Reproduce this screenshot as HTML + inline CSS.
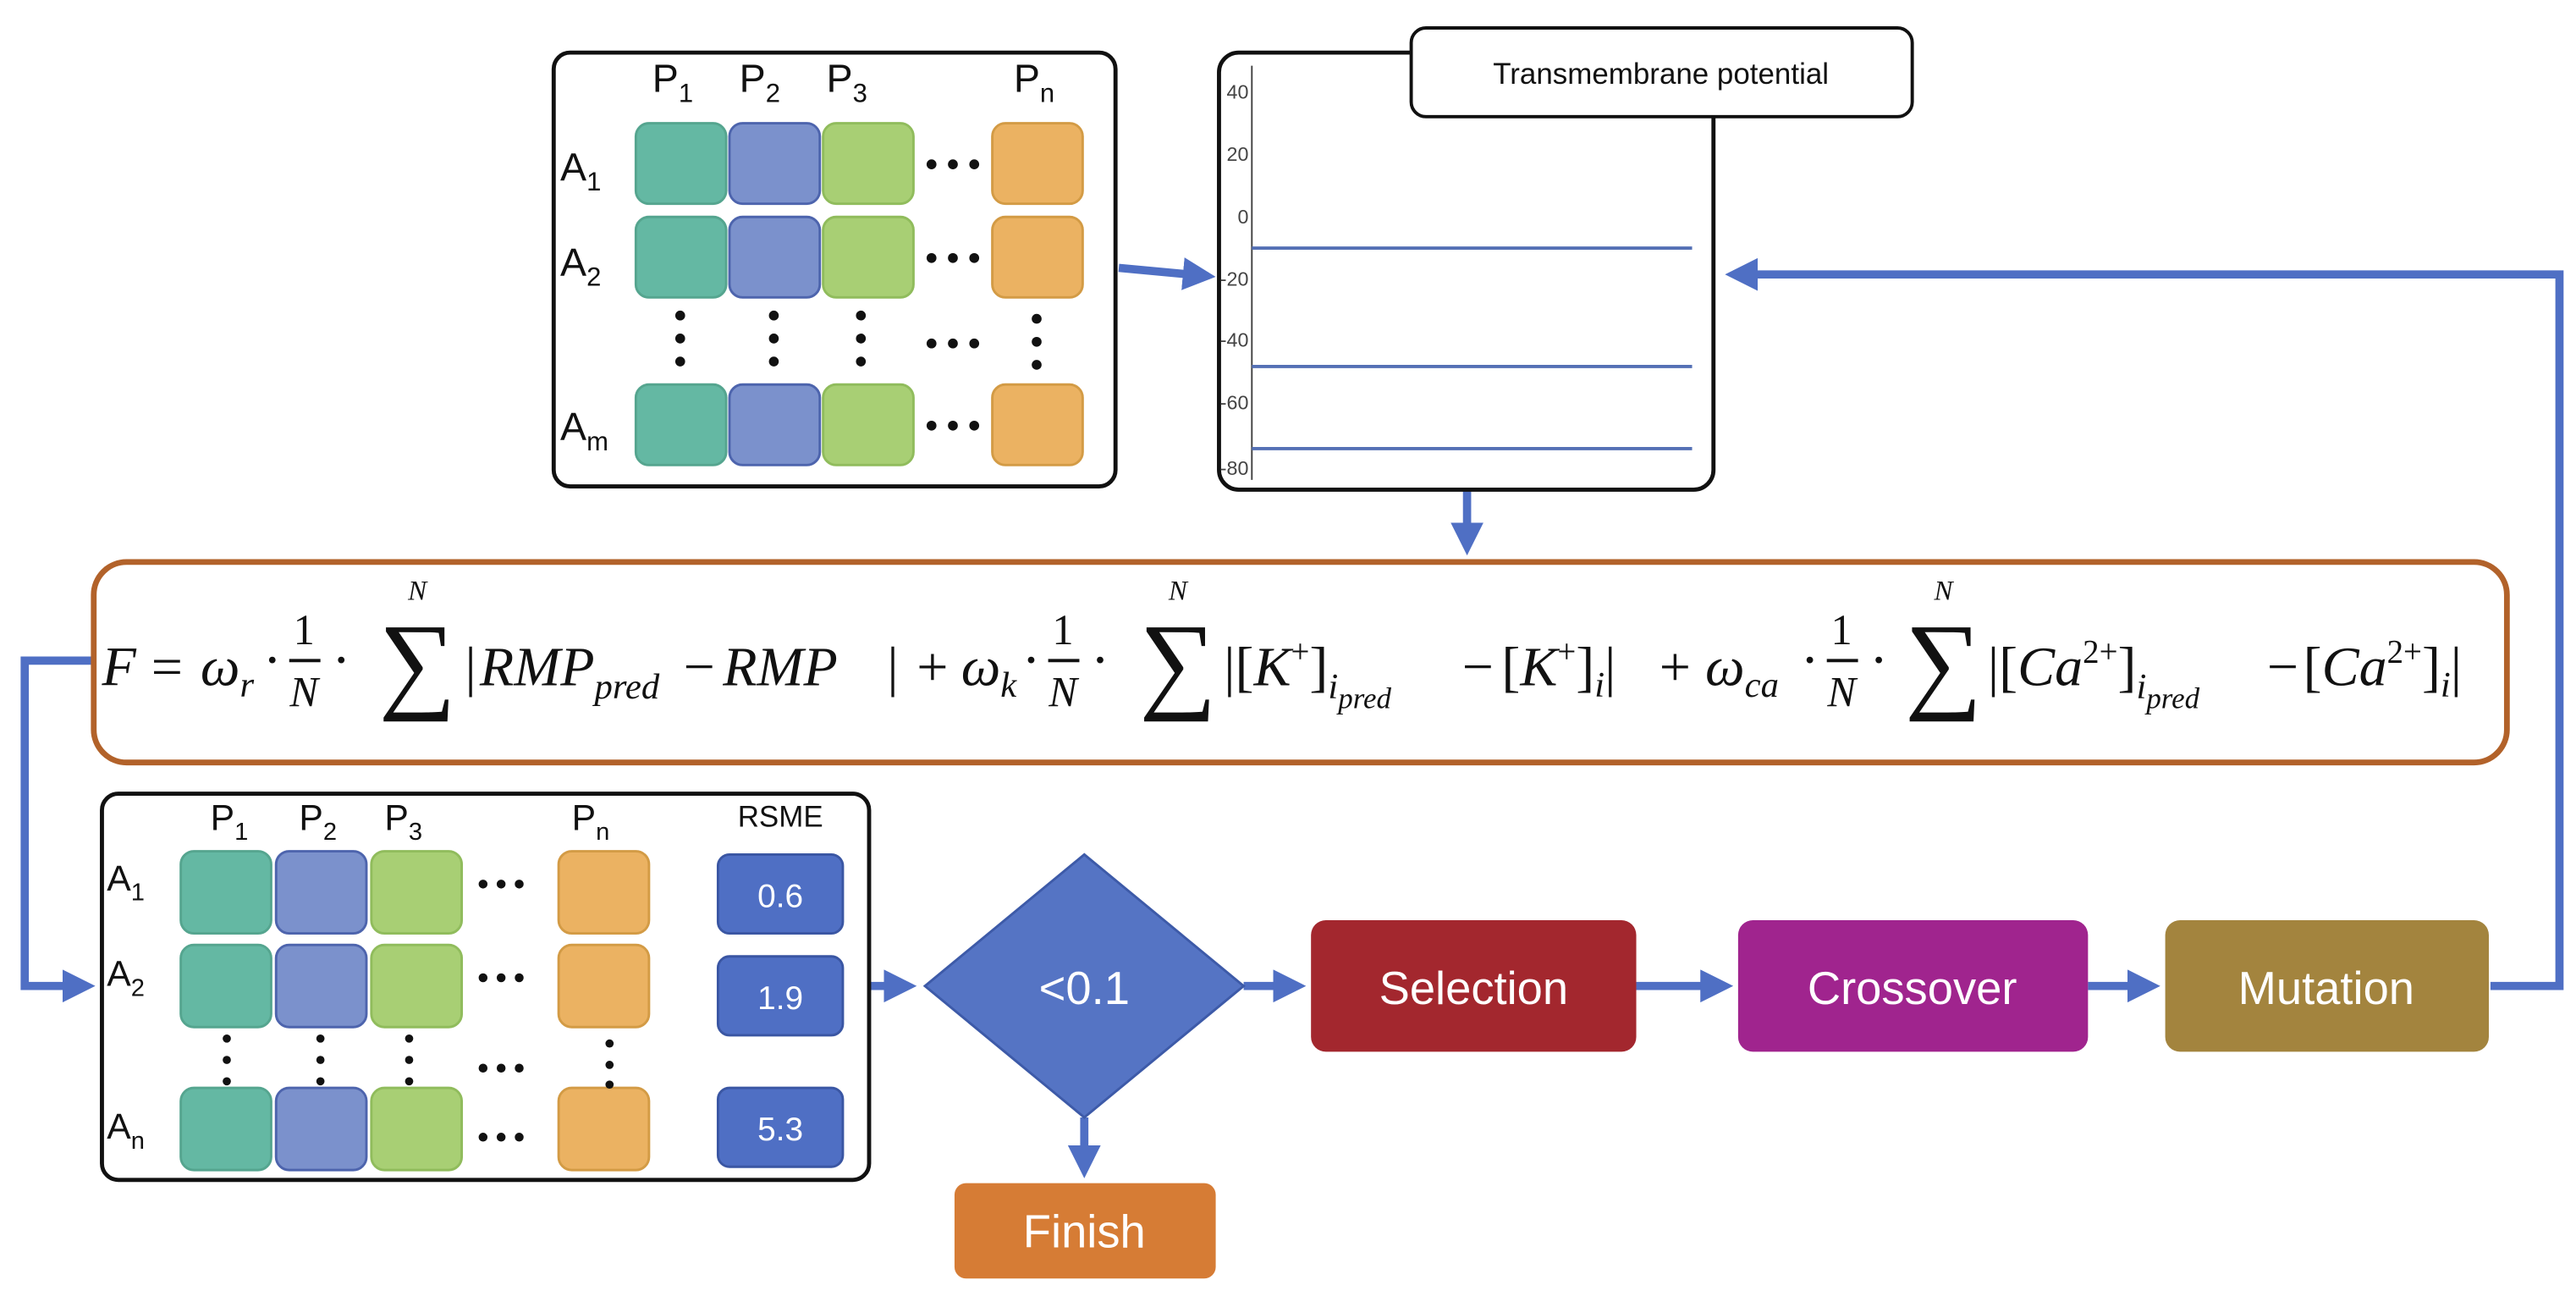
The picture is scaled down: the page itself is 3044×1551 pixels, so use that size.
<!DOCTYPE html>
<html><head><meta charset="utf-8"><style>
html,body{margin:0;padding:0;background:#fff}
svg{display:block}
.s{font-family:"Liberation Sans",sans-serif}
.m{font-family:"Liberation Serif",serif;font-style:italic}
.n{font-style:normal}
</style></head><body>
<svg width="3044" height="1551" viewBox="0 0 1568 799" xmlns="http://www.w3.org/2000/svg">
<defs>
<marker id="ar" markerWidth="4" markerHeight="4" refX="3" refY="2" orient="auto" markerUnits="strokeWidth">
<path d="M0,0 L4,2 L0,4 Z" fill="#4f6fc4"/></marker>
</defs>
<g fill="none" stroke="#4f6fc4" stroke-width="5">
<path d="M681,163 L735,168" marker-end="url(#ar)"/>
<path d="M1516,600 H1558 V167 H1055" marker-end="url(#ar)"/>
<path d="M893,298 V333" marker-end="url(#ar)"/>
<path d="M57,402 H15 V600 H53" marker-end="url(#ar)"/>
<path d="M530,600 H553" marker-end="url(#ar)"/>
<path d="M757,600 H790" marker-end="url(#ar)"/>
<path d="M996,600 H1050" marker-end="url(#ar)"/>
<path d="M1271,600 H1310" marker-end="url(#ar)"/>
<path d="M660,680 V712" marker-end="url(#ar)"/>
</g>
<!-- top-left matrix -->
<rect x="337" y="32" width="342" height="264" rx="10" fill="#fff" stroke="#111" stroke-width="2.5"/>
<g class="s" font-size="24" fill="#111">
<text x="397" y="56">P<tspan font-size="16" dy="6">1</tspan></text>
<text x="450" y="56">P<tspan font-size="16" dy="6">2</tspan></text>
<text x="503" y="56">P<tspan font-size="16" dy="6">3</tspan></text>
<text x="617" y="56">P<tspan font-size="16" dy="6">n</tspan></text>
<text x="341" y="110">A<tspan font-size="16" dy="6">1</tspan></text>
<text x="341" y="168">A<tspan font-size="16" dy="6">2</tspan></text>
<text x="341" y="268">A<tspan font-size="16" dy="6">m</tspan></text>
</g>
<g stroke-width="1.5">
<g fill="#64b8a3" stroke="#55a58f"><rect x="387" y="75" width="55" height="49" rx="8"/><rect x="387" y="132" width="55" height="49" rx="8"/><rect x="387" y="234" width="55" height="49" rx="8"/></g>
<g fill="#7b91cc" stroke="#4d64ad"><rect x="444" y="75" width="55" height="49" rx="8"/><rect x="444" y="132" width="55" height="49" rx="8"/><rect x="444" y="234" width="55" height="49" rx="8"/></g>
<g fill="#a8cf74" stroke="#90bc5c"><rect x="501" y="75" width="55" height="49" rx="8"/><rect x="501" y="132" width="55" height="49" rx="8"/><rect x="501" y="234" width="55" height="49" rx="8"/></g>
<g fill="#ebb262" stroke="#d39b45"><rect x="604" y="75" width="55" height="49" rx="8"/><rect x="604" y="132" width="55" height="49" rx="8"/><rect x="604" y="234" width="55" height="49" rx="8"/></g>
</g>
<g fill="#111">
<circle cx="567" cy="100" r="3"/><circle cx="580" cy="100" r="3"/><circle cx="593" cy="100" r="3"/>
<circle cx="567" cy="157" r="3"/><circle cx="580" cy="157" r="3"/><circle cx="593" cy="157" r="3"/>
<circle cx="567" cy="209" r="3"/><circle cx="580" cy="209" r="3"/><circle cx="593" cy="209" r="3"/>
<circle cx="567" cy="259" r="3"/><circle cx="580" cy="259" r="3"/><circle cx="593" cy="259" r="3"/>
<circle cx="414" cy="192" r="3"/><circle cx="414" cy="206" r="3"/><circle cx="414" cy="220" r="3"/>
<circle cx="471" cy="192" r="3"/><circle cx="471" cy="206" r="3"/><circle cx="471" cy="220" r="3"/>
<circle cx="524" cy="192" r="3"/><circle cx="524" cy="206" r="3"/><circle cx="524" cy="220" r="3"/>
<circle cx="631" cy="194" r="3"/><circle cx="631" cy="208" r="3"/><circle cx="631" cy="222" r="3"/>
</g>
<!-- chart -->
<rect x="742" y="32" width="301" height="266" rx="12" fill="#fff" stroke="#111" stroke-width="2.5"/>
<line x1="762" y1="40" x2="762" y2="292" stroke="#444" stroke-width="1"/>
<g class="s" font-size="12" fill="#444" text-anchor="end">
<text x="760" y="60">40</text><text x="760" y="98">20</text><text x="760" y="136">0</text>
<text x="760" y="174">-20</text><text x="760" y="211">-40</text><text x="760" y="249">-60</text><text x="760" y="289">-80</text>
</g>
<g stroke="#5470b5" stroke-width="2"><line x1="762" y1="151" x2="1030" y2="151"/><line x1="762" y1="223" x2="1030" y2="223"/><line x1="762" y1="273" x2="1030" y2="273"/></g>
<rect x="859" y="17" width="305" height="54" rx="9" fill="#fff" stroke="#111" stroke-width="2"/>
<text x="1011" y="51" class="s" font-size="18" text-anchor="middle" fill="#111">Transmembrane potential</text>
<!-- formula -->
<rect x="57" y="342" width="1469" height="122" rx="20" fill="#fff" stroke="#b2622a" stroke-width="3.5"/>
<g class="m" font-size="34" fill="#111">
<text x="62" y="417">F</text><text x="92" y="417" class="n">=</text>
<text x="122" y="417">ω<tspan font-size="22" dy="7">r</tspan></text>
<text x="160" y="413" class="n">·</text><text x="202" y="413" class="n">·</text>
<text x="185" y="392" class="n" font-size="26" text-anchor="middle">1</text><text x="185" y="430" font-size="26" text-anchor="middle">N</text>
<line x1="176" y1="402" x2="195" y2="402" stroke="#111" stroke-width="2"/>
<text x="254" y="365" font-size="17" text-anchor="middle">N</text>
<text x="254" y="425" class="n" font-size="66" text-anchor="middle">∑</text>
<text x="283" y="417" class="n">|</text>
<text x="292" y="417">RMP<tspan font-size="22" dy="8">pred</tspan></text>
<text x="416" y="417" class="n">−</text>
<text x="440" y="417">RMP</text>
<text x="540" y="417" class="n">|</text>
<text x="558" y="417" class="n">+</text>
<text x="585" y="417">ω<tspan font-size="22" dy="7">k</tspan></text>
<text x="622" y="413" class="n">·</text><text x="664" y="413" class="n">·</text>
<text x="647" y="392" class="n" font-size="26" text-anchor="middle">1</text><text x="647" y="430" font-size="26" text-anchor="middle">N</text>
<line x1="638" y1="402" x2="657" y2="402" stroke="#111" stroke-width="2"/>
<text x="717" y="365" font-size="17" text-anchor="middle">N</text>
<text x="717" y="425" class="n" font-size="66" text-anchor="middle">∑</text>
<text x="745" y="417"><tspan class="n">|[</tspan>K<tspan font-size="20" dy="-14" class="n">+</tspan><tspan dy="14" class="n">]</tspan><tspan font-size="22" dy="8">i</tspan><tspan font-size="18" dy="6">pred</tspan></text>
<text x="890" y="417" class="n">−</text>
<text x="914" y="417"><tspan class="n">[</tspan>K<tspan font-size="20" dy="-14" class="n">+</tspan><tspan dy="14" class="n">]</tspan><tspan font-size="22" dy="7">i</tspan><tspan dy="-7" class="n">|</tspan></text>
<text x="1010" y="417" class="n">+</text>
<text x="1038" y="417">ω<tspan font-size="22" dy="7">ca</tspan></text>
<text x="1096" y="413" class="n">·</text><text x="1138" y="413" class="n">·</text>
<text x="1121" y="392" class="n" font-size="26" text-anchor="middle">1</text><text x="1121" y="430" font-size="26" text-anchor="middle">N</text>
<line x1="1112" y1="402" x2="1131" y2="402" stroke="#111" stroke-width="2"/>
<text x="1183" y="365" font-size="17" text-anchor="middle">N</text>
<text x="1183" y="425" class="n" font-size="66" text-anchor="middle">∑</text>
<text x="1210" y="417"><tspan class="n">|[</tspan>Ca<tspan font-size="20" dy="-14" class="n">2+</tspan><tspan dy="14" class="n">]</tspan><tspan font-size="22" dy="8">i</tspan><tspan font-size="18" dy="6">pred</tspan></text>
<text x="1380" y="417" class="n">−</text>
<text x="1402" y="417"><tspan class="n">[</tspan>Ca<tspan font-size="20" dy="-14" class="n">2+</tspan><tspan dy="14" class="n">]</tspan><tspan font-size="22" dy="7">i</tspan><tspan dy="-7" class="n">|</tspan></text>
</g>
<!-- bottom matrix -->
<rect x="62" y="483" width="467" height="235" rx="10" fill="#fff" stroke="#111" stroke-width="2.5"/>
<g class="s" font-size="22" fill="#111">
<text x="128" y="505">P<tspan font-size="15" dy="6">1</tspan></text>
<text x="182" y="505">P<tspan font-size="15" dy="6">2</tspan></text>
<text x="234" y="505">P<tspan font-size="15" dy="6">3</tspan></text>
<text x="348" y="505">P<tspan font-size="15" dy="6">n</tspan></text>
<text x="475" y="503" font-size="18" text-anchor="middle">RSME</text>
<text x="65" y="542">A<tspan font-size="15" dy="6">1</tspan></text>
<text x="65" y="600">A<tspan font-size="15" dy="6">2</tspan></text>
<text x="65" y="693">A<tspan font-size="15" dy="6">n</tspan></text>
</g>
<g stroke-width="1.5">
<g fill="#64b8a3" stroke="#55a58f"><rect x="110" y="518" width="55" height="50" rx="8"/><rect x="110" y="575" width="55" height="50" rx="8"/><rect x="110" y="662" width="55" height="50" rx="8"/></g>
<g fill="#7b91cc" stroke="#4d64ad"><rect x="168" y="518" width="55" height="50" rx="8"/><rect x="168" y="575" width="55" height="50" rx="8"/><rect x="168" y="662" width="55" height="50" rx="8"/></g>
<g fill="#a8cf74" stroke="#90bc5c"><rect x="226" y="518" width="55" height="50" rx="8"/><rect x="226" y="575" width="55" height="50" rx="8"/><rect x="226" y="662" width="55" height="50" rx="8"/></g>
<g fill="#ebb262" stroke="#d39b45"><rect x="340" y="518" width="55" height="50" rx="8"/><rect x="340" y="575" width="55" height="50" rx="8"/><rect x="340" y="662" width="55" height="50" rx="8"/></g>
<g fill="#4f6fc4" stroke="#3a56a3"><rect x="437" y="520" width="76" height="48" rx="7"/><rect x="437" y="582" width="76" height="48" rx="7"/><rect x="437" y="662" width="76" height="48" rx="7"/></g>
</g>
<g class="s" font-size="20" fill="#fff" text-anchor="middle"><text x="475" y="552">0.6</text><text x="475" y="614">1.9</text><text x="475" y="694">5.3</text></g>
<g fill="#111">
<circle cx="294" cy="538" r="2.7"/><circle cx="305" cy="538" r="2.7"/><circle cx="316" cy="538" r="2.7"/>
<circle cx="294" cy="595" r="2.7"/><circle cx="305" cy="595" r="2.7"/><circle cx="316" cy="595" r="2.7"/>
<circle cx="294" cy="650" r="2.7"/><circle cx="305" cy="650" r="2.7"/><circle cx="316" cy="650" r="2.7"/>
<circle cx="294" cy="692" r="2.7"/><circle cx="305" cy="692" r="2.7"/><circle cx="316" cy="692" r="2.7"/>
<circle cx="138" cy="632" r="2.5"/><circle cx="138" cy="645" r="2.5"/><circle cx="138" cy="658" r="2.5"/>
<circle cx="195" cy="632" r="2.5"/><circle cx="195" cy="645" r="2.5"/><circle cx="195" cy="658" r="2.5"/>
<circle cx="249" cy="632" r="2.5"/><circle cx="249" cy="645" r="2.5"/><circle cx="249" cy="658" r="2.5"/>
<circle cx="371" cy="635" r="2.5"/><circle cx="371" cy="648" r="2.5"/><circle cx="371" cy="660" r="2.5"/>
</g>
<!-- flow -->
<polygon points="660,520 757,600 660,680 563,600" fill="#5574c4" stroke="#3d5aa8" stroke-width="1.5"/>
<g class="s" font-size="28" fill="#fff" text-anchor="middle">
<text x="660" y="611">&lt;0.1</text>
<rect x="798" y="560" width="198" height="80" rx="9" fill="#a3272e"/><text x="897" y="611">Selection</text>
<rect x="1058" y="560" width="213" height="80" rx="9" fill="#a0248e"/><text x="1164" y="611">Crossover</text>
<rect x="1318" y="560" width="197" height="80" rx="9" fill="#a3843e"/><text x="1416" y="611">Mutation</text>
<rect x="581" y="720" width="159" height="58" rx="7" fill="#d67c35"/><text x="660" y="759">Finish</text>
</g>
</svg>
</body></html>
